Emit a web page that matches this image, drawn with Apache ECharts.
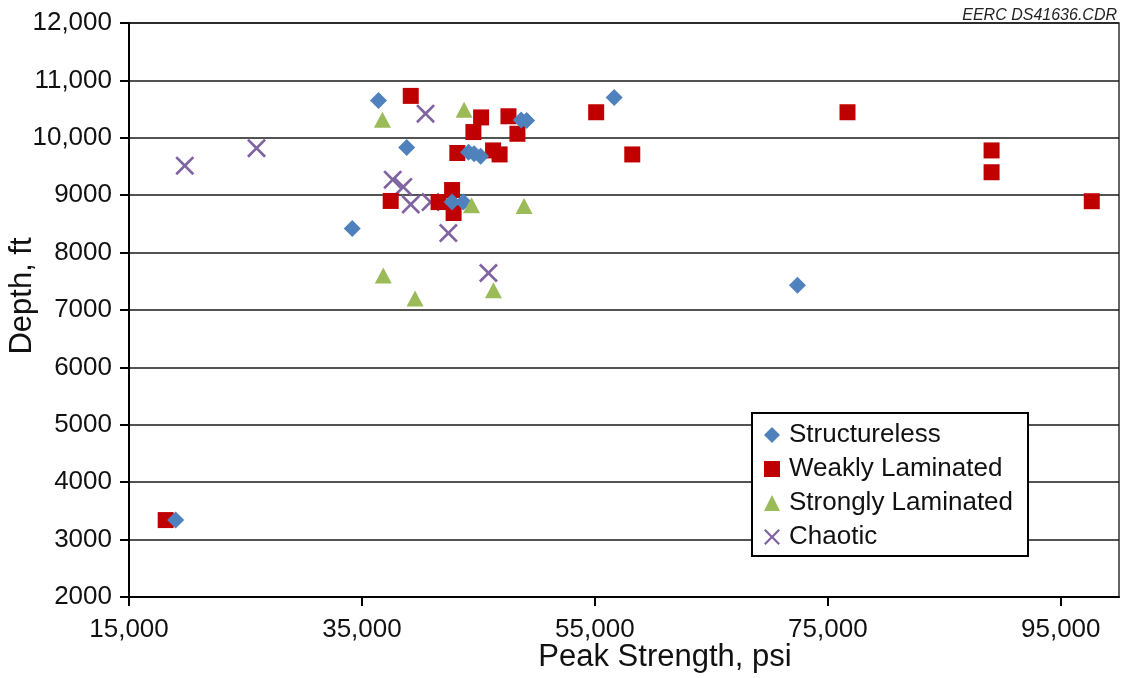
<!DOCTYPE html>
<html>
<head>
<meta charset="utf-8">
<script src="https://cdn.jsdelivr.net/npm/echarts@6/dist/echarts.min.js"></script>
<style>
  html, body { margin: 0; padding: 0; background: #fff; }
  #chart { width: 1125px; height: 678px; }
</style>
</head>
<body>
<div id="chart"></div>
<script>
// Peak strength (psi) vs depth (ft), grouped by core texture
const structureless = [
  [36420, 10650], [38840, 9830], [34170, 8420], [42740, 8880], [43710, 8880],
  [44150, 9750], [44630, 9720], [45190, 9680], [48670, 10310], [49140, 10300],
  [56660, 10700], [72390, 7430], [19010, 3340]
];
const weaklyLaminated = [
  [39190, 10730], [37470, 8900], [43190, 9735], [44570, 10100], [45230, 10355],
  [42740, 9090], [41580, 8880], [42870, 8690], [46260, 9780], [46820, 9710],
  [47580, 10375], [48350, 10070], [55110, 10445], [58210, 9710], [76690, 10445],
  [89060, 9780], [89060, 9400], [97660, 8895], [18150, 3340]
];
const stronglyLaminated = [
  [36760, 10315], [43770, 10490], [44410, 8825], [48920, 8810],
  [36830, 7600], [39560, 7200], [46290, 7345]
];
const chaotic = [
  [19790, 9515], [25950, 9820], [40460, 10420], [37640, 9270], [38550, 9145],
  [39190, 8840], [40890, 8880], [42420, 8340], [45860, 7645]
];

const seriesNames = ['Structureless', 'Weakly Laminated', 'Strongly Laminated', 'Chaotic'];
const xTickValues = [15000, 35000, 55000, 75000, 95000];

const FONT = "'Liberation Sans', Arial, sans-serif";
// "x" marker drawn as a filled cross outline
const crossPath = 'path://M0,2L2,0L10,8L18,0L20,2L12,10L20,18L18,20L10,12L2,20L0,18L8,10Z';

function commaFmt(v) { return Number(v).toLocaleString('en-US'); }
function depthFmt(v) { return v >= 10000 ? commaFmt(v) : String(v); }

const chart = echarts.init(document.getElementById('chart'), null, { renderer: 'canvas' });

chart.setOption({
  animation: false,
  backgroundColor: '#ffffff',
  grid: {
    left: 129, right: 6, top: 23, bottom: 81,
    show: true, borderColor: '#333', borderWidth: 1.5, backgroundColor: 'transparent'
  },
  xAxis: {
    type: 'value', min: 15000, max: 100000,
    axisLine: { show: true, onZero: false, lineStyle: { color: '#000', width: 2 } },
    axisTick: { show: true, length: 9, customValues: xTickValues, lineStyle: { color: '#000', width: 2 } },
    axisLabel: {
      customValues: xTickValues, margin: 20, fontSize: 26, fontFamily: FONT, color: '#111',
      formatter: commaFmt
    },
    splitLine: { show: false }
  },
  yAxis: {
    type: 'value', min: 2000, max: 12000, interval: 1000,
    axisLine: { show: true, onZero: false, lineStyle: { color: '#000', width: 2 } },
    axisTick: { show: true, length: 9, lineStyle: { color: '#000', width: 2 } },
    axisLabel: { margin: 17, fontSize: 26, fontFamily: FONT, color: '#111', formatter: depthFmt },
    splitLine: { show: true, lineStyle: { color: '#1a1a1a', width: 1.6 } }
  },
  legend: {
    orient: 'vertical', left: 752, top: 413,
    padding: [9, 15, 6, 12], itemGap: 8, itemWidth: 16, itemHeight: 16,
    borderColor: '#000', borderWidth: 2, backgroundColor: '#fff',
    textStyle: { fontSize: 26, fontFamily: FONT, color: '#111', padding: [0, 0, 0, 4] },
    data: seriesNames
  },
  series: [
    {
      name: seriesNames[0], type: 'scatter', data: structureless, z: 4,
      symbol: 'diamond', symbolSize: 17,
      itemStyle: { color: '#4F81BD', opacity: 1 }, emphasis: { disabled: true }
    },
    {
      name: seriesNames[1], type: 'scatter', data: weaklyLaminated, z: 3,
      symbol: 'rect', symbolSize: 16,
      itemStyle: { color: '#C00000', opacity: 1 }, emphasis: { disabled: true }
    },
    {
      name: seriesNames[2], type: 'scatter', data: stronglyLaminated, z: 5,
      symbol: 'triangle', symbolSize: [17, 16],
      itemStyle: { color: '#9BBB59', opacity: 1 }, emphasis: { disabled: true }
    },
    {
      name: seriesNames[3], type: 'scatter', data: chaotic, z: 2,
      symbol: crossPath, symbolSize: 19,
      itemStyle: { color: '#8064A2', opacity: 1 }, emphasis: { disabled: true }
    }
  ],
  graphic: [
    {
      type: 'text', x: 665, y: 657, z: 10,
      style: { text: 'Peak Strength, psi', fontSize: 31, fontFamily: FONT, fill: '#111', align: 'center', verticalAlign: 'middle' }
    },
    {
      type: 'text', x: 22, y: 296, rotation: Math.PI / 2, z: 10,
      style: { text: 'Depth, ft', fontSize: 31, fontFamily: FONT, fill: '#111', align: 'center', verticalAlign: 'middle' }
    },
    {
      type: 'text', x: 1117, y: 16, z: 10,
      style: { text: 'EERC DS41636.CDR', fontSize: 16, fontStyle: 'italic', fontFamily: FONT, fill: '#222', align: 'right', verticalAlign: 'middle' }
    }
  ]
});
</script>
</body>
</html>
